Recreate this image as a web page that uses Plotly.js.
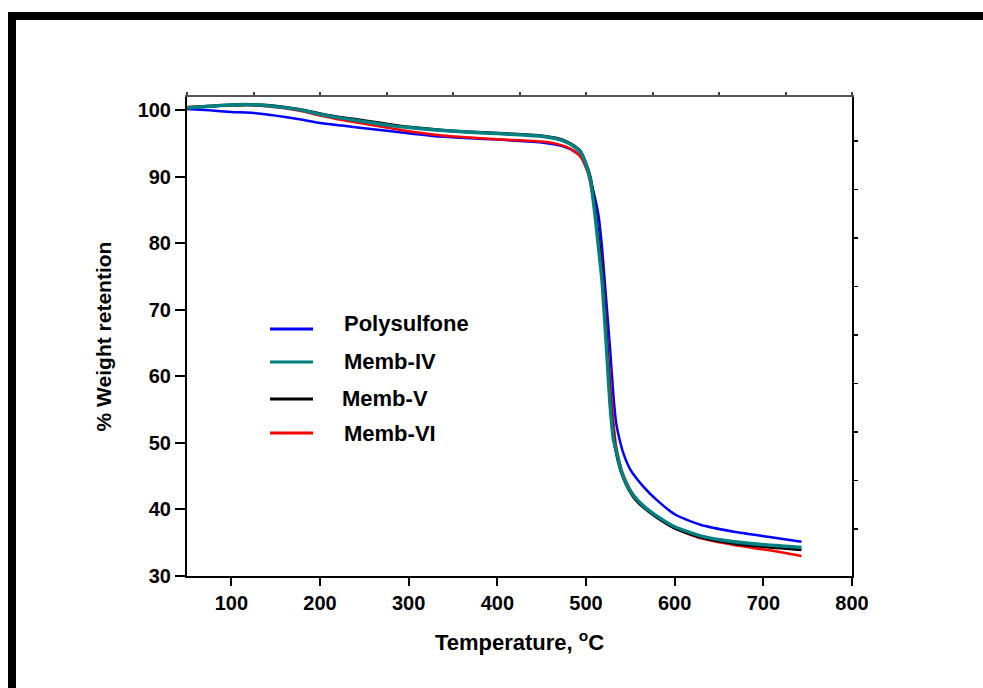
<!DOCTYPE html>
<html>
<head>
<meta charset="utf-8">
<script src="https://cdn.plot.ly/plotly-3.0.1.min.js"></script>
<style>
  html, body { margin: 0; padding: 0; background: #fff; }
  #wrap { position: relative; width: 983px; height: 688px; overflow: hidden; }
  #chart { position: absolute; left: 0; top: 0; width: 983px; height: 688px; }
  #frame { position: absolute; left: 8px; top: 12px; width: 975px; height: 676px;
           box-sizing: border-box; border-top: 8px solid #000; border-left: 8px solid #000;
           pointer-events: none; }
</style>
</head>
<body>
<div id="wrap"><div id="chart"></div><div id="frame"></div></div>
<script>
// ---------------- data ----------------
const seriesNames = ['Polysulfone', 'Memb-IV', 'Memb-V', 'Memb-VI'];

const polysulfoneT = [50,75,100,125,150,175,200,225,250,290,335,370,400,430,448,467,478,486,494,501,508,514,518,521,527,531,534,537,542,550,565,580,601,629,667,705,743];
const polysulfoneW = [100.2,100.0,99.75,99.6,99.2,98.7,98.1,97.7,97.3,96.7,96.05,95.8,95.6,95.35,95.2,94.8,94.4,93.9,93.1,91.3,88.0,84.3,79.5,74.5,64.4,57.0,53.0,51.0,48.5,46.0,43.4,41.4,39.2,37.7,36.65,35.9,35.15];

const membIVT = [50,75,100,120,140,160,180,200,220,240,260,280,300,335,370,400,430,450,467,478,486,494,501,505,510,514,518,523,527,531,535,540,546,554,565,580,600,630,667,705,743];
const membIVW = [100.4,100.6,100.8,100.85,100.7,100.4,100.0,99.4,98.9,98.5,98.1,97.7,97.4,97.0,96.7,96.5,96.3,96.1,95.7,95.2,94.6,93.7,91.5,89.5,84.5,79.5,74.5,64.5,56.0,50.5,48.3,45.7,43.7,42.0,40.5,39.0,37.4,36.0,35.15,34.65,34.3];

const membVT = [50,75,100,120,140,160,180,200,220,240,260,280,300,335,370,400,430,450,467,478,486,494,501,505,510,514,518,523,527,531,535,540,546,554,565,580,600,630,667,705,743];
const membVW = [100.4,100.6,100.8,100.85,100.75,100.45,100.05,99.5,99.0,98.65,98.25,97.85,97.5,97.05,96.75,96.55,96.35,96.15,95.8,95.3,94.7,93.8,91.6,89.9,85.5,80.8,75.8,65.8,57.0,51.0,48.0,45.5,43.6,41.8,40.3,38.8,37.2,35.8,34.9,34.35,33.95];

const membVIT = [50,75,100,120,140,160,180,200,220,240,260,280,300,335,370,400,430,450,467,478,486,494,501,505,510,514,517,521,525,530,534,540,546,554,565,580,600,630,667,705,743];
const membVIW = [100.5,100.65,100.75,100.8,100.6,100.3,99.85,99.2,98.65,98.2,97.75,97.3,96.85,96.25,95.9,95.65,95.45,95.3,94.95,94.5,93.9,93.0,91.0,89.0,85.0,81.0,78.0,71.5,63.5,54.5,49.5,46.0,44.0,42.1,40.5,38.9,37.2,35.65,34.65,33.9,33.0];

const xTickVals = [100,200,300,400,500,600,700,800];
const yTickVals = [30,40,50,60,70,80,90,100];

// ---------------- styles ----------------
const FONT = 'Liberation Sans, Arial, Helvetica, sans-serif';
const colors = { 'Polysulfone': '#0000ff', 'Memb-IV': '#008080', 'Memb-V': '#000000', 'Memb-VI': '#ff0000' };
const widths = { 'Polysulfone': 2.5, 'Memb-IV': 3.5, 'Memb-V': 3, 'Memb-VI': 2.5 };

const seriesData = {
  'Polysulfone': [polysulfoneT, polysulfoneW],
  'Memb-IV': [membIVT, membIVW],
  'Memb-V': [membVT, membVW],
  'Memb-VI': [membVIT, membVIW]
};

// draw order: blue, red, black, teal (teal on top)
const drawOrder = ['Polysulfone', 'Memb-VI', 'Memb-V', 'Memb-IV'];
const traces = drawOrder.map(name => ({
  type: 'scatter', mode: 'lines', name: name,
  x: seriesData[name][0], y: seriesData[name][1],
  line: { color: colors[name], width: widths[name], shape: 'spline', smoothing: 0.6 },
  showlegend: false, hoverinfo: 'skip'
}));

// manual legend (paper coordinates)
const legLineX = [0.1248, 0.1895];
const legLineY = [0.5157, 0.4468, 0.3695, 0.2985];
const legTextX = [0.2331, 0.2331, 0.2301, 0.2331];
const legTextY = [0.5261, 0.4468, 0.3716, 0.2985];
const shapes = [];
const annotations = [];
seriesNames.forEach((name, i) => {
  shapes.push({ type: 'line', xref: 'paper', yref: 'paper',
    x0: legLineX[0], x1: legLineX[1], y0: legLineY[i], y1: legLineY[i],
    line: { color: colors[name], width: 3 } });
  annotations.push({ xref: 'paper', yref: 'paper', x: legTextX[i], y: legTextY[i],
    xanchor: 'left', yanchor: 'middle', showarrow: false, text: name,
    font: { family: FONT, size: 22, color: '#000', weight: 'bold' } });
});

const layout = {
  width: 983, height: 688, autosize: false,
  margin: { l: 187, r: 131, t: 97, b: 112 },
  paper_bgcolor: '#fff', plot_bgcolor: '#fff',
  showlegend: false,
  xaxis: {
    range: [50, 800], tickvals: xTickVals, ticks: 'outside', ticklen: 8, tickwidth: 2, tickcolor: '#000',
    showline: true, linecolor: '#000', linewidth: 2, showgrid: false, zeroline: false,
    tickfont: { family: FONT, size: 20, color: '#000', weight: 'bold' },
    title: { text: 'Temperature, <sup>o</sup>C', standoff: 22,
      font: { family: FONT, size: 22, color: '#000', weight: 'bold' } },
    automargin: false
  },
  yaxis: {
    range: [30, 102], tickvals: yTickVals, ticks: 'outside', ticklen: 10, tickwidth: 2, tickcolor: '#000',
    showline: true, linecolor: '#000', linewidth: 2, showgrid: false, zeroline: false,
    tickfont: { family: FONT, size: 20, color: '#000', weight: 'bold' },
    title: { text: '% Weight retention', standoff: 20,
      font: { family: FONT, size: 21, color: '#000', weight: 'bold' } },
    automargin: false
  },
  xaxis2: {
    overlaying: 'x', side: 'top', anchor: 'y', range: [0, 10], dtick: 1, tick0: 0,
    ticks: 'outside', ticklen: 3, tickwidth: 2, tickcolor: '#444',
    showline: true, linecolor: '#555', linewidth: 2, showgrid: false, zeroline: false,
    showticklabels: false
  },
  yaxis2: {
    overlaying: 'y', side: 'right', anchor: 'x', range: [-0.969, 8.907], dtick: 1, tick0: 0,
    ticks: 'outside', ticklen: 4, tickwidth: 1.5, tickcolor: '#000',
    showline: true, linecolor: '#000', linewidth: 2, showgrid: false, zeroline: false,
    showticklabels: false
  },
  shapes: shapes,
  annotations: annotations
};

// empty helper traces so the mirror axes are created
traces.push({ type: 'scatter', mode: 'lines', x: [], y: [], xaxis: 'x2', yaxis: 'y2', showlegend: false, hoverinfo: 'skip' });

Plotly.newPlot('chart', traces, layout, { displayModeBar: false, staticPlot: true });
</script>
</body>
</html>
